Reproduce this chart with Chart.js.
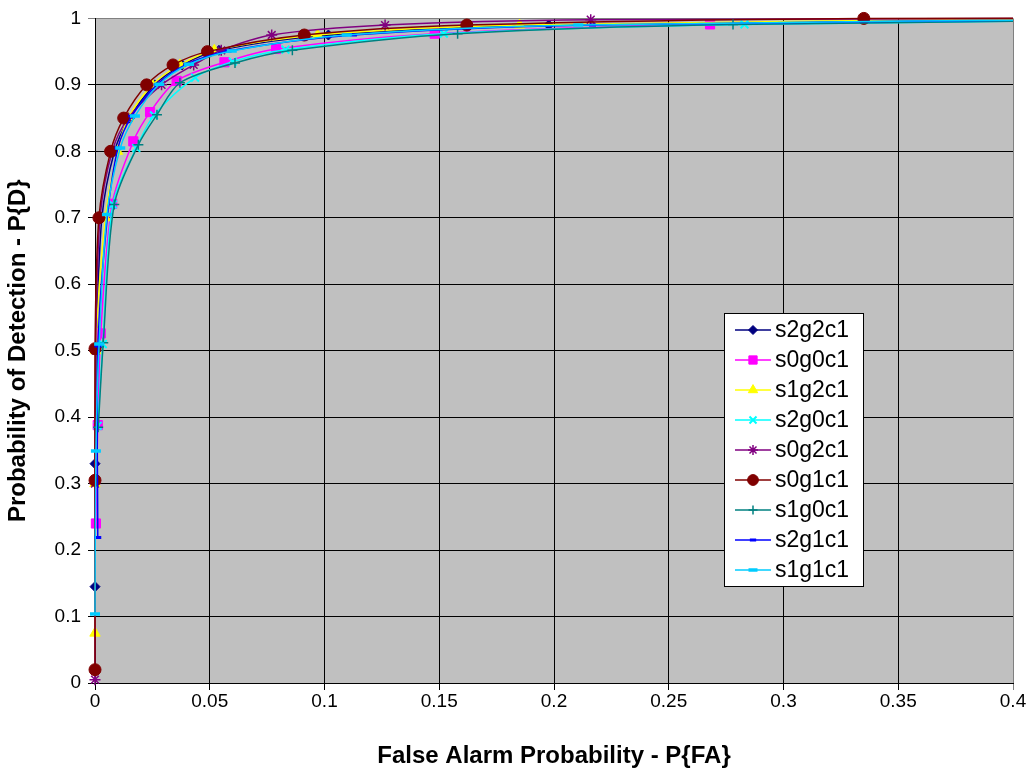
<!DOCTYPE html>
<html>
<head>
<meta charset="utf-8">
<script src="https://cdn.jsdelivr.net/npm/chart.js@4.4.1/dist/chart.umd.min.js"></script>
<style>
  html, body { margin: 0; padding: 0; background: #fff; }
  #wrap { width: 1032px; height: 773px; }
</style>
</head>
<body>
<div id="wrap"><canvas id="roc" width="1032" height="773"></canvas></div>
<script>
'use strict';

// axis ticks
const xTickLabels = ['0', '0.05', '0.1', '0.15', '0.2', '0.25', '0.3', '0.35', '0.4'];
const yTickLabels = ['0', '0.1', '0.2', '0.3', '0.4', '0.5', '0.6', '0.7', '0.8', '0.9', '1'];

// series: P{FA} (x) and P{D} (y)
const s2g2c1X = [0, 0, 0.0006, 0.003, 0.0085, 0.015, 0.026, 0.038, 0.054, 0.1017, 0.1977, 0.48];
const s2g2c1Y = [0.145, 0.33, 0.505, 0.70, 0.80, 0.85, 0.90, 0.93, 0.952, 0.975, 0.99, 1.0];

const s0g0c1X = [0.0004, 0.0012, 0.0025, 0.0075, 0.0167, 0.024, 0.0356, 0.0564, 0.0789, 0.148, 0.268, 0.52];
const s0g0c1Y = [0.24, 0.388, 0.526, 0.721, 0.815, 0.859, 0.906, 0.934, 0.954, 0.977, 0.991, 1.0];

const s1g2c1X = [0, 0, 0.0003, 0.0045, 0.0098, 0.0145, 0.025, 0.037, 0.052, 0.097, 0.185, 0.45];
const s1g2c1Y = [0.075, 0.30, 0.50, 0.70, 0.80, 0.85, 0.90, 0.93, 0.952, 0.975, 0.99, 1.0];

const s2g0c1X = [0.0012, 0.0034, 0.0078, 0.018, 0.0257, 0.0436, 0.060, 0.083, 0.152, 0.283, 0.55];
const s2g0c1Y = [0.387, 0.51, 0.72, 0.805, 0.854, 0.911, 0.935, 0.953, 0.977, 0.991, 1.0];

const s0g2c1X = [0, 0, 0.0003, 0.0022, 0.0075, 0.0145, 0.029, 0.043, 0.055, 0.077, 0.1264, 0.216, 0.5];
const s0g2c1Y = [0.005, 0.30, 0.50, 0.70, 0.80, 0.85, 0.90, 0.93, 0.952, 0.975, 0.99, 0.998, 1.0];

const s0g1c1X = [0, 0, 0, 0.0017, 0.0068, 0.0125, 0.0225, 0.034, 0.049, 0.0912, 0.162, 0.335, 0.6];
const s0g1c1Y = [0.02, 0.305, 0.503, 0.70, 0.80, 0.85, 0.90, 0.93, 0.95, 0.975, 0.99, 1.0, 1.0];

const s1g0c1X = [0.0014, 0.0036, 0.0084, 0.0189, 0.027, 0.037, 0.061, 0.086, 0.158, 0.278, 0.55];
const s1g0c1Y = [0.385, 0.512, 0.72, 0.81, 0.855, 0.903, 0.933, 0.952, 0.977, 0.991, 1.0];

const s2g1c1X = [0.0012, 0.0013, 0.0055, 0.010, 0.016, 0.027, 0.040, 0.058, 0.1126, 0.2168, 0.5];
const s2g1c1Y = [0.219, 0.507, 0.705, 0.805, 0.853, 0.90, 0.931, 0.951, 0.975, 0.99, 1.0];

const s1g1c1X = [0, 0.0004, 0.0018, 0.0052, 0.011, 0.0174, 0.028, 0.041, 0.0596, 0.1097, 0.2106, 0.5];
const s1g1c1Y = [0.104, 0.349, 0.51, 0.705, 0.805, 0.853, 0.901, 0.931, 0.951, 0.975, 0.99, 1.0];

const seriesNames = ['s2g2c1', 's0g0c1', 's1g2c1', 's2g0c1', 's0g2c1', 's0g1c1', 's1g0c1', 's2g1c1', 's1g1c1'];
const seriesX = [s2g2c1X, s0g0c1X, s1g2c1X, s2g0c1X, s0g2c1X, s0g1c1X, s1g0c1X, s2g1c1X, s1g1c1X];
const seriesY = [s2g2c1Y, s0g0c1Y, s1g2c1Y, s2g0c1Y, s0g2c1Y, s0g1c1Y, s1g0c1Y, s2g1c1Y, s1g1c1Y];

// Excel-ish marker styles
const STYLES = [
  { color: '#000080', point: 'rectRot',   r: 5,   bw: 1 },
  { color: '#FF00FF', point: 'rect',      r: 6.5, bw: 1 },
  { color: '#FFFF00', point: 'triangle',  r: 6,   bw: 1 },
  { color: '#00FFFF', point: 'crossRot',  r: 5.5, bw: 2 },
  { color: '#800080', point: 'star',      r: 5.5, bw: 1.5 },
  { color: '#800000', point: 'circle',    r: 6,   bw: 1 },
  { color: '#008080', point: 'cross',     r: 5,   bw: 1.5 },
  { color: '#0000FF', point: 'line',      r: 3.5, bw: 3 },
  { color: '#00CCFF', point: 'line',      r: 5,   bw: 3.5 },
];

const FONT = "'Liberation Sans', Arial, sans-serif";

const datasets = seriesNames.map((name, i) => {
  const s = STYLES[i];
  return {
    label: name,
    data: seriesX[i].map((x, j) => ({ x, y: seriesY[i][j] })),
    showLine: true,
    borderColor: s.color,
    backgroundColor: s.color,
    borderWidth: 1.5,
    tension: 0.3,
    pointStyle: s.point,
    pointRadius: s.r,
    pointBorderWidth: s.bw,
    pointBackgroundColor: s.color,
    pointBorderColor: s.color,
    pointHoverRadius: s.r,
    // let markers on the axes show whole, cut the lines at the right edge
    clip: { left: 9, top: 9, right: 0, bottom: 9 },
    order: seriesNames.length - i,
  };
});

// grey plot area like Excel
const plotBg = {
  id: 'plotBg',
  beforeDraw(chart) {
    const { ctx, chartArea: a } = chart;
    ctx.save();
    ctx.fillStyle = '#C0C0C0';
    ctx.fillRect(a.left, a.top, a.right - a.left, a.bottom - a.top);
    ctx.restore();
  },
};

// boxed legend inside the plot
const boxLegend = {
  id: 'boxLegend',
  afterDraw(chart) {
    const { ctx } = chart;
    const left = 724, top = 313, w = 139, h = 273, rowH = 30;
    ctx.save();
    ctx.fillStyle = '#fff';
    ctx.fillRect(left, top, w, h);
    ctx.strokeStyle = '#000';
    ctx.lineWidth = 1;
    ctx.strokeRect(left + 0.5, top + 0.5, w, h);
    ctx.font = '23px ' + FONT;
    ctx.textBaseline = 'middle';
    seriesNames.forEach((name, i) => {
      const s = STYLES[i];
      const cy = top + 17 + i * rowH;
      ctx.strokeStyle = s.color;
      ctx.lineWidth = 1.5;
      ctx.beginPath();
      ctx.moveTo(735, cy);
      ctx.lineTo(771, cy);
      ctx.stroke();
      ctx.fillStyle = s.color;
      ctx.lineWidth = s.bw;
      Chart.helpers.drawPoint(ctx, { pointStyle: s.point, radius: s.r * 0.9, rotation: 0, borderWidth: s.bw }, 753, cy);
      ctx.fillStyle = '#000';
      ctx.fillText(name, 775, cy + 1);
    });
    ctx.restore();
  },
};

new Chart(document.getElementById('roc'), {
  type: 'scatter',
  data: { datasets },
  plugins: [plotBg, boxLegend],
  options: {
    responsive: false,
    animation: false,
    events: [],
    layout: { padding: { left: 0, right: 19, top: 17, bottom: 0 } },
    plugins: {
      legend: { display: false },
      tooltip: { enabled: false },
    },
    scales: {
      x: {
        type: 'linear',
        min: 0, max: 0.4,
        afterFit: s => { s.height = 90; },
        grid: {
          color: c => (c.tick && c.tick.value >= 0.399) ? '#808080' : '#000',
          lineWidth: 1,
          tickLength: 7,
        },
        border: { color: '#000', width: 1 },
        ticks: {
          stepSize: 0.05,
          color: '#000',
          font: { family: FONT, size: 19 },
          padding: 0,
          maxRotation: 0,
          callback: (v, i) => xTickLabels[i],
        },
        title: {
          display: true,
          text: 'False Alarm Probability - P{FA}',
          color: '#000',
          font: { family: FONT, size: 24, weight: 'bold' },
          padding: { top: 0, bottom: 2 },
        },
      },
      y: {
        type: 'linear',
        min: 0, max: 1,
        afterFit: s => { s.width = 95; },
        grid: {
          color: c => (c.tick && c.tick.value >= 0.999) ? '#808080' : '#000',
          lineWidth: 1,
          tickLength: 7,
        },
        border: { color: '#000', width: 1 },
        ticks: {
          stepSize: 0.1,
          color: '#000',
          font: { family: FONT, size: 19 },
          padding: 7,
          callback: (v, i) => yTickLabels[i],
        },
        title: {
          display: true,
          text: 'Probability of Detection - P{D}',
          color: '#000',
          font: { family: FONT, size: 24, weight: 'bold' },
          padding: { top: 4, bottom: 0 },
        },
      },
    },
  },
});
</script>
</body>
</html>
